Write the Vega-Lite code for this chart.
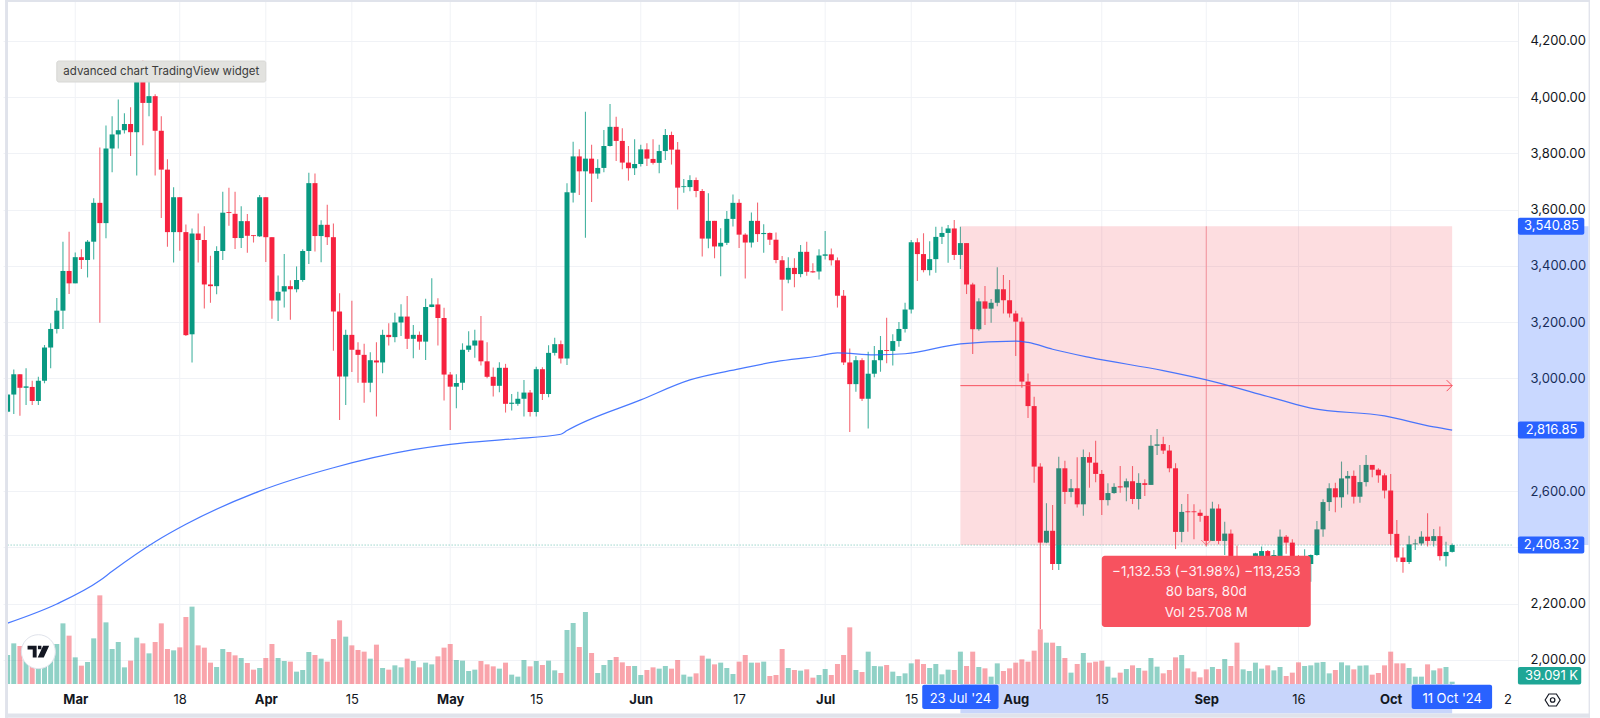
{"$schema":"https://vega.github.io/schema/vega-lite/v6.json","width":1515,"height":682,"autosize":{"type":"none"},"padding":{"left":3,"top":2,"right":82,"bottom":34},"background":"#ffffff","config":{"view":{"stroke":null},"text":{"font":"Inter"},"axis":{"labelFont":"Inter"}},
"datasets":{"candles":[
{"date":"2024-02-19","o":2882,"h":2943,"l":2880,"c":2943,"v":493},{"date":"2024-02-20","o":2943,"h":3032,"l":2874,"c":3015,"v":691},{"date":"2024-02-21","o":3015,"h":3015,"l":2868,"c":2967,"v":646},{"date":"2024-02-22","o":2967,"h":3036,"l":2906,"c":2972,"v":408},{"date":"2024-02-23","o":2970,"h":2992,"l":2906,"c":2920,"v":351},{"date":"2024-02-24","o":2920,"h":3006,"l":2906,"c":2992,"v":408},{"date":"2024-02-25","o":2992,"h":3119,"l":2983,"c":3110,"v":465},{"date":"2024-02-26","o":3110,"h":3196,"l":3036,"c":3176,"v":493},{"date":"2024-02-27","o":3176,"h":3286,"l":3160,"c":3241,"v":680},{"date":"2024-02-28","o":3241,"h":3486,"l":3176,"c":3382,"v":1031},{"date":"2024-02-29","o":3382,"h":3521,"l":3300,"c":3338,"v":822},
{"date":"2024-03-01","o":3338,"h":3448,"l":3338,"c":3431,"v":453},{"date":"2024-03-02","o":3431,"h":3459,"l":3389,"c":3421,"v":312},{"date":"2024-03-03","o":3421,"h":3492,"l":3359,"c":3486,"v":374},{"date":"2024-03-04","o":3486,"h":3640,"l":3423,"c":3624,"v":776},{"date":"2024-03-05","o":3624,"h":3821,"l":3198,"c":3552,"v":1507},{"date":"2024-03-06","o":3552,"h":3899,"l":3498,"c":3817,"v":1048},{"date":"2024-03-07","o":3817,"h":3932,"l":3733,"c":3867,"v":595},{"date":"2024-03-08","o":3867,"h":3991,"l":3817,"c":3882,"v":714},{"date":"2024-03-09","o":3882,"h":3942,"l":3870,"c":3904,"v":283},{"date":"2024-03-10","o":3904,"h":3964,"l":3790,"c":3875,"v":397},{"date":"2024-03-11","o":3875,"h":4120,"l":3721,"c":4090,"v":788},{"date":"2024-03-12","o":4090,"h":4130,"l":3829,"c":3979,"v":691},{"date":"2024-03-13","o":3979,"h":4060,"l":3932,"c":4003,"v":521},{"date":"2024-03-14","o":4003,"h":4010,"l":3721,"c":3880,"v":714},{"date":"2024-03-15","o":3880,"h":3932,"l":3570,"c":3742,"v":1031},{"date":"2024-03-16","o":3742,"h":3779,"l":3468,"c":3520,"v":595},{"date":"2024-03-17","o":3520,"h":3679,"l":3412,"c":3644,"v":572},{"date":"2024-03-18","o":3644,"h":3644,"l":3454,"c":3520,"v":623},{"date":"2024-03-19","o":3520,"h":3547,"l":3151,"c":3154,"v":1139},{"date":"2024-03-20","o":3157,"h":3533,"l":3057,"c":3515,"v":1315},{"date":"2024-03-21","o":3515,"h":3586,"l":3412,"c":3492,"v":657},{"date":"2024-03-22","o":3492,"h":3541,"l":3249,"c":3334,"v":618},{"date":"2024-03-23","o":3334,"h":3436,"l":3269,"c":3328,"v":363},{"date":"2024-03-24","o":3328,"h":3470,"l":3299,"c":3453,"v":289},{"date":"2024-03-25","o":3453,"h":3663,"l":3421,"c":3589,"v":595},{"date":"2024-03-26","o":3591,"h":3678,"l":3543,"c":3588,"v":544},{"date":"2024-03-27","o":3585,"h":3663,"l":3460,"c":3499,"v":487},{"date":"2024-03-28","o":3499,"h":3612,"l":3464,"c":3559,"v":442},{"date":"2024-03-29","o":3559,"h":3584,"l":3447,"c":3507,"v":357},{"date":"2024-03-30","o":3509,"h":3509,"l":3483,"c":3506,"v":244},{"date":"2024-03-31","o":3505,"h":3652,"l":3503,"c":3644,"v":272},
{"date":"2024-04-01","o":3644,"h":3644,"l":3414,"c":3502,"v":442},{"date":"2024-04-02","o":3502,"h":3502,"l":3212,"c":3277,"v":680},{"date":"2024-04-03","o":3277,"h":3366,"l":3204,"c":3308,"v":442},{"date":"2024-04-04","o":3309,"h":3442,"l":3252,"c":3328,"v":391},{"date":"2024-04-05","o":3328,"h":3349,"l":3209,"c":3317,"v":380},{"date":"2024-04-06","o":3317,"h":3398,"l":3306,"c":3350,"v":210},{"date":"2024-04-07","o":3350,"h":3459,"l":3344,"c":3453,"v":238},{"date":"2024-04-08","o":3453,"h":3731,"l":3407,"c":3694,"v":544},{"date":"2024-04-09","o":3694,"h":3728,"l":3451,"c":3506,"v":493},{"date":"2024-04-10","o":3506,"h":3562,"l":3413,"c":3546,"v":431},{"date":"2024-04-11","o":3546,"h":3617,"l":3474,"c":3502,"v":380},{"date":"2024-04-12","o":3502,"h":3551,"l":3099,"c":3238,"v":765},{"date":"2024-04-13","o":3238,"h":3303,"l":2853,"c":3007,"v":1082},{"date":"2024-04-14","o":3007,"h":3173,"l":2906,"c":3155,"v":805},{"date":"2024-04-15","o":3155,"h":3276,"l":3023,"c":3102,"v":657},{"date":"2024-04-16","o":3102,"h":3129,"l":2985,"c":3084,"v":578},{"date":"2024-04-17","o":3084,"h":3123,"l":2914,"c":2985,"v":550},{"date":"2024-04-18","o":2985,"h":3093,"l":2951,"c":3065,"v":431},{"date":"2024-04-19","o":3064,"h":3129,"l":2865,"c":3057,"v":669},{"date":"2024-04-20","o":3057,"h":3173,"l":3019,"c":3155,"v":272},{"date":"2024-04-21","o":3155,"h":3196,"l":3117,"c":3147,"v":244},{"date":"2024-04-22","o":3147,"h":3234,"l":3129,"c":3199,"v":317},{"date":"2024-04-23","o":3199,"h":3264,"l":3151,"c":3220,"v":283},{"date":"2024-04-24","o":3220,"h":3293,"l":3105,"c":3141,"v":431},{"date":"2024-04-25","o":3141,"h":3190,"l":3072,"c":3155,"v":391},{"date":"2024-04-26","o":3155,"h":3167,"l":3102,"c":3131,"v":283},{"date":"2024-04-27","o":3131,"h":3283,"l":3066,"c":3254,"v":363},{"date":"2024-04-28","o":3254,"h":3356,"l":3253,"c":3263,"v":334},{"date":"2024-04-29","o":3263,"h":3285,"l":3117,"c":3215,"v":470},{"date":"2024-04-30","o":3215,"h":3251,"l":2922,"c":3014,"v":618},
{"date":"2024-05-01","o":3014,"h":3023,"l":2817,"c":2971,"v":680},{"date":"2024-05-02","o":2971,"h":3015,"l":2894,"c":2984,"v":408},{"date":"2024-05-03","o":2985,"h":3125,"l":2959,"c":3102,"v":397},{"date":"2024-05-04","o":3102,"h":3168,"l":3094,"c":3117,"v":221},{"date":"2024-05-05","o":3117,"h":3173,"l":3074,"c":3135,"v":244},{"date":"2024-05-06","o":3135,"h":3222,"l":3046,"c":3061,"v":391},{"date":"2024-05-07","o":3061,"h":3129,"l":3001,"c":3006,"v":334},{"date":"2024-05-08","o":3006,"h":3039,"l":2936,"c":2974,"v":300},{"date":"2024-05-09","o":2974,"h":3058,"l":2951,"c":3038,"v":261},{"date":"2024-05-10","o":3038,"h":3052,"l":2879,"c":2910,"v":363},{"date":"2024-05-11","o":2910,"h":2945,"l":2886,"c":2914,"v":159},{"date":"2024-05-12","o":2910,"h":2953,"l":2903,"c":2928,"v":125},{"date":"2024-05-13","o":2928,"h":2995,"l":2865,"c":2950,"v":408},{"date":"2024-05-14","o":2950,"h":2959,"l":2865,"c":2881,"v":300},{"date":"2024-05-15","o":2881,"h":3042,"l":2865,"c":3033,"v":391},{"date":"2024-05-16","o":3033,"h":3040,"l":2924,"c":2945,"v":323},{"date":"2024-05-17","o":2945,"h":3118,"l":2933,"c":3091,"v":397},{"date":"2024-05-18","o":3091,"h":3145,"l":3082,"c":3122,"v":232},{"date":"2024-05-19","o":3122,"h":3135,"l":3053,"c":3071,"v":187},{"date":"2024-05-20","o":3071,"h":3694,"l":3048,"c":3662,"v":918},{"date":"2024-05-21","o":3660,"h":3841,"l":3625,"c":3789,"v":1037},{"date":"2024-05-22","o":3789,"h":3814,"l":3652,"c":3736,"v":629},{"date":"2024-05-23","o":3736,"h":3948,"l":3500,"c":3781,"v":1224},{"date":"2024-05-24","o":3781,"h":3830,"l":3627,"c":3728,"v":527},{"date":"2024-05-25","o":3728,"h":3779,"l":3710,"c":3748,"v":187},{"date":"2024-05-26","o":3748,"h":3883,"l":3733,"c":3826,"v":323},{"date":"2024-05-27","o":3826,"h":3975,"l":3824,"c":3894,"v":408},{"date":"2024-05-28","o":3894,"h":3930,"l":3773,"c":3844,"v":459},{"date":"2024-05-29","o":3844,"h":3889,"l":3743,"c":3767,"v":368},{"date":"2024-05-30","o":3767,"h":3826,"l":3703,"c":3747,"v":306},{"date":"2024-05-31","o":3747,"h":3850,"l":3723,"c":3762,"v":306},
{"date":"2024-06-01","o":3762,"h":3830,"l":3753,"c":3814,"v":153},{"date":"2024-06-02","o":3814,"h":3836,"l":3755,"c":3781,"v":238},{"date":"2024-06-03","o":3780,"h":3850,"l":3760,"c":3766,"v":283},{"date":"2024-06-04","o":3766,"h":3830,"l":3729,"c":3808,"v":261},{"date":"2024-06-05","o":3808,"h":3886,"l":3776,"c":3865,"v":306},{"date":"2024-06-06","o":3865,"h":3877,"l":3760,"c":3813,"v":261},{"date":"2024-06-07","o":3813,"h":3840,"l":3600,"c":3678,"v":408},{"date":"2024-06-08","o":3680,"h":3709,"l":3660,"c":3683,"v":159},{"date":"2024-06-09","o":3680,"h":3722,"l":3665,"c":3705,"v":125},{"date":"2024-06-10","o":3705,"h":3714,"l":3644,"c":3666,"v":181},{"date":"2024-06-11","o":3666,"h":3673,"l":3433,"c":3497,"v":482},{"date":"2024-06-12","o":3497,"h":3658,"l":3463,"c":3560,"v":431},{"date":"2024-06-13","o":3560,"h":3560,"l":3427,"c":3469,"v":334},{"date":"2024-06-14","o":3469,"h":3534,"l":3363,"c":3482,"v":363},{"date":"2024-06-15","o":3482,"h":3595,"l":3474,"c":3567,"v":272},{"date":"2024-06-16","o":3567,"h":3654,"l":3540,"c":3624,"v":170},{"date":"2024-06-17","o":3624,"h":3637,"l":3464,"c":3511,"v":380},{"date":"2024-06-18","o":3511,"h":3516,"l":3355,"c":3483,"v":493},{"date":"2024-06-19","o":3483,"h":3590,"l":3465,"c":3560,"v":363},{"date":"2024-06-20","o":3560,"h":3625,"l":3485,"c":3513,"v":363},{"date":"2024-06-21","o":3513,"h":3548,"l":3447,"c":3517,"v":380},{"date":"2024-06-22","o":3517,"h":3519,"l":3474,"c":3493,"v":136},{"date":"2024-06-23","o":3493,"h":3519,"l":3409,"c":3421,"v":153},{"date":"2024-06-24","o":3420,"h":3435,"l":3241,"c":3351,"v":595},{"date":"2024-06-25","o":3351,"h":3431,"l":3338,"c":3393,"v":272},{"date":"2024-06-26","o":3393,"h":3427,"l":3324,"c":3371,"v":238},{"date":"2024-06-27","o":3371,"h":3474,"l":3360,"c":3450,"v":227},{"date":"2024-06-28","o":3450,"h":3486,"l":3365,"c":3379,"v":249},{"date":"2024-06-29","o":3381,"h":3409,"l":3376,"c":3377,"v":108},{"date":"2024-06-30","o":3380,"h":3459,"l":3352,"c":3437,"v":153},
{"date":"2024-07-01","o":3436,"h":3524,"l":3423,"c":3441,"v":255},{"date":"2024-07-02","o":3441,"h":3462,"l":3401,"c":3420,"v":153},{"date":"2024-07-03","o":3420,"h":3430,"l":3252,"c":3294,"v":340},{"date":"2024-07-04","o":3294,"h":3314,"l":3048,"c":3057,"v":493},{"date":"2024-07-05","o":3057,"h":3107,"l":2810,"c":2980,"v":963},{"date":"2024-07-06","o":2980,"h":3080,"l":2953,"c":3065,"v":238},{"date":"2024-07-07","o":3065,"h":3072,"l":2920,"c":2928,"v":204},{"date":"2024-07-08","o":2928,"h":3095,"l":2822,"c":3017,"v":550},{"date":"2024-07-09","o":3017,"h":3115,"l":3004,"c":3065,"v":306},{"date":"2024-07-10","o":3065,"h":3151,"l":3024,"c":3101,"v":300},{"date":"2024-07-11","o":3101,"h":3216,"l":3054,"c":3098,"v":323},{"date":"2024-07-12","o":3098,"h":3157,"l":3046,"c":3133,"v":210},{"date":"2024-07-13","o":3133,"h":3201,"l":3113,"c":3176,"v":136},{"date":"2024-07-14","o":3176,"h":3269,"l":3163,"c":3245,"v":181},{"date":"2024-07-15","o":3245,"h":3492,"l":3231,"c":3484,"v":351},{"date":"2024-07-16","o":3484,"h":3498,"l":3346,"c":3442,"v":419},{"date":"2024-07-17","o":3442,"h":3516,"l":3377,"c":3385,"v":340},{"date":"2024-07-18","o":3385,"h":3488,"l":3366,"c":3424,"v":272},{"date":"2024-07-19","o":3424,"h":3539,"l":3376,"c":3503,"v":340},{"date":"2024-07-20","o":3503,"h":3539,"l":3478,"c":3517,"v":164},{"date":"2024-07-21","o":3517,"h":3545,"l":3411,"c":3533,"v":244},{"date":"2024-07-22","o":3533,"h":3563,"l":3421,"c":3439,"v":238},{"date":"2024-07-23","o":3439,"h":3539,"l":3389,"c":3481,"v":550},{"date":"2024-07-24","o":3481,"h":3481,"l":3300,"c":3334,"v":306},{"date":"2024-07-25","o":3334,"h":3340,"l":3087,"c":3175,"v":550},{"date":"2024-07-26","o":3175,"h":3285,"l":3170,"c":3274,"v":289},{"date":"2024-07-27","o":3274,"h":3329,"l":3190,"c":3248,"v":266},{"date":"2024-07-28","o":3248,"h":3282,"l":3198,"c":3269,"v":125},{"date":"2024-07-29","o":3269,"h":3395,"l":3257,"c":3317,"v":351},{"date":"2024-07-30","o":3317,"h":3368,"l":3231,"c":3278,"v":221},{"date":"2024-07-31","o":3278,"h":3350,"l":3217,"c":3231,"v":266},
{"date":"2024-08-01","o":3231,"h":3241,"l":3080,"c":3202,"v":363},{"date":"2024-08-02","o":3202,"h":3217,"l":2967,"c":2989,"v":419},{"date":"2024-08-03","o":2989,"h":3018,"l":2860,"c":2902,"v":380},{"date":"2024-08-04","o":2902,"h":2935,"l":2630,"c":2687,"v":567},{"date":"2024-08-05","o":2687,"h":2699,"l":2110,"c":2417,"v":929},{"date":"2024-08-06","o":2417,"h":2557,"l":2415,"c":2459,"v":703},{"date":"2024-08-07","o":2459,"h":2551,"l":2320,"c":2341,"v":703},{"date":"2024-08-08","o":2341,"h":2722,"l":2320,"c":2681,"v":646},{"date":"2024-08-09","o":2681,"h":2708,"l":2554,"c":2597,"v":442},{"date":"2024-08-10","o":2597,"h":2643,"l":2578,"c":2610,"v":193},{"date":"2024-08-11","o":2610,"h":2720,"l":2542,"c":2553,"v":340},{"date":"2024-08-12","o":2553,"h":2748,"l":2512,"c":2721,"v":527},{"date":"2024-08-13","o":2721,"h":2738,"l":2612,"c":2701,"v":363},{"date":"2024-08-14","o":2701,"h":2779,"l":2631,"c":2661,"v":380},{"date":"2024-08-15","o":2661,"h":2675,"l":2515,"c":2568,"v":397},{"date":"2024-08-16","o":2568,"h":2628,"l":2549,"c":2593,"v":295},{"date":"2024-08-17","o":2593,"h":2628,"l":2591,"c":2615,"v":108},{"date":"2024-08-18","o":2617,"h":2689,"l":2594,"c":2613,"v":193},{"date":"2024-08-19","o":2613,"h":2645,"l":2564,"c":2635,"v":255},{"date":"2024-08-20","o":2635,"h":2689,"l":2554,"c":2572,"v":317},{"date":"2024-08-21","o":2572,"h":2663,"l":2535,"c":2629,"v":272},{"date":"2024-08-22","o":2628,"h":2642,"l":2583,"c":2622,"v":227},{"date":"2024-08-23","o":2622,"h":2799,"l":2622,"c":2761,"v":442},{"date":"2024-08-24","o":2761,"h":2821,"l":2728,"c":2766,"v":295},{"date":"2024-08-25","o":2767,"h":2793,"l":2732,"c":2744,"v":181},{"date":"2024-08-26","o":2744,"h":2764,"l":2667,"c":2681,"v":238},{"date":"2024-08-27","o":2681,"h":2699,"l":2394,"c":2455,"v":453},{"date":"2024-08-28","o":2455,"h":2554,"l":2418,"c":2526,"v":493},{"date":"2024-08-29","o":2528,"h":2590,"l":2456,"c":2525,"v":266},{"date":"2024-08-30","o":2528,"h":2553,"l":2429,"c":2525,"v":210},{"date":"2024-08-31","o":2523,"h":2535,"l":2491,"c":2512,"v":113},
{"date":"2024-09-01","o":2512,"h":2512,"l":2403,"c":2423,"v":249},{"date":"2024-09-02","o":2423,"h":2562,"l":2423,"c":2538,"v":289},{"date":"2024-09-03","o":2538,"h":2553,"l":2411,"c":2423,"v":255},{"date":"2024-09-04","o":2423,"h":2491,"l":2373,"c":2449,"v":425},{"date":"2024-09-05","o":2449,"h":2464,"l":2320,"c":2332,"v":306},{"date":"2024-09-06","o":2367,"h":2407,"l":2296,"c":2320,"v":703},{"date":"2024-09-07","o":2320,"h":2367,"l":2296,"c":2343,"v":249},{"date":"2024-09-08","o":2326,"h":2361,"l":2302,"c":2343,"v":221},{"date":"2024-09-09","o":2343,"h":2381,"l":2320,"c":2379,"v":363},{"date":"2024-09-10","o":2367,"h":2403,"l":2332,"c":2387,"v":261},{"date":"2024-09-11","o":2387,"h":2391,"l":2326,"c":2355,"v":317},{"date":"2024-09-12","o":2355,"h":2391,"l":2320,"c":2373,"v":232},{"date":"2024-09-13","o":2369,"h":2464,"l":2343,"c":2438,"v":289},{"date":"2024-09-14","o":2438,"h":2444,"l":2377,"c":2417,"v":136},{"date":"2024-09-15","o":2417,"h":2429,"l":2332,"c":2361,"v":193},{"date":"2024-09-16","o":2361,"h":2373,"l":2296,"c":2320,"v":368},{"date":"2024-09-17","o":2320,"h":2393,"l":2296,"c":2355,"v":306},{"date":"2024-09-18","o":2341,"h":2375,"l":2278,"c":2373,"v":317},{"date":"2024-09-19","o":2373,"h":2494,"l":2370,"c":2464,"v":363},{"date":"2024-09-20","o":2464,"h":2571,"l":2438,"c":2561,"v":374},{"date":"2024-09-21","o":2561,"h":2628,"l":2529,"c":2610,"v":181},{"date":"2024-09-22","o":2610,"h":2630,"l":2525,"c":2578,"v":238},{"date":"2024-09-23","o":2578,"h":2705,"l":2541,"c":2645,"v":368},{"date":"2024-09-24","o":2645,"h":2671,"l":2588,"c":2654,"v":317},{"date":"2024-09-25","o":2654,"h":2673,"l":2556,"c":2580,"v":249},{"date":"2024-09-26","o":2580,"h":2693,"l":2559,"c":2632,"v":312},{"date":"2024-09-27","o":2632,"h":2728,"l":2616,"c":2693,"v":317},{"date":"2024-09-28","o":2693,"h":2693,"l":2649,"c":2676,"v":159},{"date":"2024-09-29","o":2676,"h":2681,"l":2630,"c":2656,"v":187},{"date":"2024-09-30","o":2656,"h":2663,"l":2574,"c":2602,"v":317},
{"date":"2024-10-01","o":2602,"h":2661,"l":2408,"c":2448,"v":550},{"date":"2024-10-02","o":2448,"h":2497,"l":2349,"c":2364,"v":351},{"date":"2024-10-03","o":2364,"h":2400,"l":2310,"c":2348,"v":351},{"date":"2024-10-04","o":2348,"h":2441,"l":2341,"c":2411,"v":272},{"date":"2024-10-05","o":2411,"h":2429,"l":2391,"c":2414,"v":125},{"date":"2024-10-06","o":2414,"h":2457,"l":2407,"c":2438,"v":125},{"date":"2024-10-07","o":2438,"h":2521,"l":2403,"c":2423,"v":334},{"date":"2024-10-08","o":2423,"h":2465,"l":2403,"c":2440,"v":232},{"date":"2024-10-09","o":2440,"h":2474,"l":2353,"c":2369,"v":266},{"date":"2024-10-10","o":2369,"h":2420,"l":2332,"c":2384,"v":289},{"date":"2024-10-11","o":2384,"h":2414,"l":2382,"c":2408.32,"v":39.091}],
"ma":[{"date":"2024-02-19","p":2131},{"date":"2024-02-27","p":2199},{"date":"2024-03-05","p":2282},{"date":"2024-03-07","p":2315},{"date":"2024-03-14","p":2420},{"date":"2024-03-19","p":2482},{"date":"2024-03-31","p":2600},{"date":"2024-04-12","p":2683},{"date":"2024-04-25","p":2747},{"date":"2024-05-01","p":2766},{"date":"2024-05-11","p":2785},{"date":"2024-05-19","p":2802},{"date":"2024-05-20","p":2815},{"date":"2024-06-01","p":2924},{"date":"2024-06-09","p":2995},{"date":"2024-06-17","p":3034},{"date":"2024-06-23","p":3060},{"date":"2024-06-30","p":3080},{"date":"2024-07-03","p":3091},{"date":"2024-07-09","p":3084},{"date":"2024-07-14","p":3088},{"date":"2024-07-23","p":3123},{"date":"2024-08-01","p":3133},{"date":"2024-08-03","p":3128},{"date":"2024-08-07","p":3104},{"date":"2024-08-13","p":3075},{"date":"2024-08-25","p":3028},{"date":"2024-09-02","p":2990},{"date":"2024-09-11","p":2936},{"date":"2024-09-13","p":2924},{"date":"2024-09-18","p":2895},{"date":"2024-09-30","p":2867},{"date":"2024-10-08","p":2828},{"date":"2024-10-11","p":2816.85}]},
"encoding":{"x":{"field":"date","type":"temporal","title":null,"scale":{"type":"utc","domain":[1708305984000,1729460160000]},"axis":{"values":[{"year":2024,"month":"mar","date":1,"utc":true},{"year":2024,"month":"mar","date":18,"utc":true},{"year":2024,"month":"apr","date":1,"utc":true},{"year":2024,"month":"apr","date":15,"utc":true},{"year":2024,"month":"may","date":1,"utc":true},{"year":2024,"month":"may","date":15,"utc":true},{"year":2024,"month":"jun","date":1,"utc":true},{"year":2024,"month":"jun","date":17,"utc":true},{"year":2024,"month":"jul","date":1,"utc":true},{"year":2024,"month":"jul","date":15,"utc":true},{"year":2024,"month":"aug","date":1,"utc":true},{"year":2024,"month":"aug","date":15,"utc":true},{"year":2024,"month":"sep","date":1,"utc":true},{"year":2024,"month":"sep","date":16,"utc":true},{"year":2024,"month":"oct","date":1,"utc":true},{"year":2024,"month":"oct","date":20,"utc":true}],"grid":false,"ticks":false,"domain":false,"zindex":1,"labelAngle":0,"labelOverlap":false,"labelBound":false,"labelFlush":false,"labelPadding":9,"labelFontSize":13,"labelColor":"#131722","labelExpr":"utcdate(datum.value)==1 ? utcFormat(datum.value,'%b') : (utcdate(datum.value)==20 ? '2' : utcFormat(datum.value,'%-d'))","labelFontWeight":{"condition":{"test":"utcdate(datum.value)==1","value":"bold"},"value":"normal"}}}},
"layer":[
{"data":{"values":[{"date":"2024-03-01"},{"date":"2024-03-18"},{"date":"2024-04-01"},{"date":"2024-04-15"},{"date":"2024-05-01"},{"date":"2024-05-15"},{"date":"2024-06-01"},{"date":"2024-06-17"},{"date":"2024-07-01"},{"date":"2024-07-15"},{"date":"2024-08-01"},{"date":"2024-08-15"},{"date":"2024-09-01"},{"date":"2024-09-16"},{"date":"2024-10-01"}]},"mark":{"type":"rule","color":"#f0f2f6","strokeWidth":1},"encoding":{}},
{"data":{"name":"candles"},"mark":{"type":"bar","size":5,"opacity":0.45},"encoding":{"y":{"field":"v","type":"quantitative","title":null,"axis":null,"scale":{"domain":[0,11594],"nice":false}},"color":{"condition":{"test":"datum.c>=datum.o","value":"#089981"},"value":"#f23645"}}},
{"encoding":{"y":{"field":"p","type":"quantitative","title":null,"scale":{"domain":[1914.7,4337.5],"nice":false,"zero":false},"axis":{"orient":"right","values":[2000,2200,2400,2600,2800,3000,3200,3400,3600,3800,4000,4200],"grid":true,"gridColor":"#f0f2f6","ticks":false,"domain":true,"domainColor":"#eceef2","labelPadding":12,"labelFontSize":13,"labelColor":"#131722","labelLimit":100,"labelExpr":"datum.value==2400||datum.value==2800 ? '' : format(datum.value,',.2f')"}}},
"layer":[
{"data":{"values":[{"date":"2024-02-19","date2":"2024-10-21","p":2408.32}]},"mark":{"type":"rule","color":"#089981","opacity":0.6,"strokeWidth":1,"strokeDash":[1,2]},"encoding":{"x2":{"field":"date2"}}},
{"data":{"name":"candles"},"mark":{"type":"rule","strokeWidth":1.1,"opacity":0.75},"encoding":{"y":{"field":"l","type":"quantitative","title":null},"y2":{"field":"h"},"color":{"condition":{"test":"datum.c>=datum.o","value":"#089981"},"value":"#f23645"}}},
{"data":{"name":"candles"},"mark":{"type":"bar","size":5},"encoding":{"y":{"field":"o","type":"quantitative","title":null},"y2":{"field":"c"},"color":{"condition":{"test":"datum.c>=datum.o","value":"#089981"},"value":"#f6223f"}}},
{"data":{"values":[{"date":"2024-07-23","date2":"2024-10-11","p":3540.85,"p2":2408.32}]},"mark":{"type":"rect","color":"#f23645","opacity":0.17},"encoding":{"x2":{"field":"date2"},"y2":{"field":"p2"}}},
{"data":{"values":[{"date":"2024-07-23","date2":"2024-10-11","p":2974.6}]},"mark":{"type":"rule","color":"#f7525f","strokeWidth":1},"encoding":{"x2":{"field":"date2"}}},
{"data":{"values":[{"date":"2024-09-01","p":3540.85,"p2":2408.32}]},"mark":{"type":"rule","color":"#f7525f","strokeWidth":1,"opacity":0.5},"encoding":{"y2":{"field":"p2"}}},
{"data":{"values":[{"date":"2024-10-11","p":2974.6}]},"mark":{"type":"point","shape":"M-1,-1L0,0L-1,1","filled":false,"stroke":"#f7525f","strokeWidth":1,"size":121,"opacity":1}},
{"data":{"values":[{"date":"2024-09-01","p":2408.32}]},"mark":{"type":"point","shape":"M-1,-1L0,0L1,-1","filled":false,"stroke":"#f7525f","strokeWidth":1,"size":100,"opacity":0.7}},
{"data":{"name":"ma"},"mark":{"type":"line","color":"#2962ff","strokeWidth":1.2,"opacity":0.85,"interpolate":"monotone"}},
{"data":{"values":[{"date":"2024-08-15","date2":"2024-09-18","p":2370.5,"p2":2117.2}]},"mark":{"type":"rect","color":"#f7525f","cornerRadius":3},"encoding":{"x2":{"field":"date2"},"y2":{"field":"p2"}}},
{"data":{"values":[{"date":"2024-09-01","p":2313.7,"label":"−1,132.53 (−31.98%) −113,253"},{"date":"2024-09-01","p":2240.4,"label":"80 bars, 80d"},{"date":"2024-09-01","p":2168,"label":"Vol 25.708 M"}]},"mark":{"type":"text","color":"#ffffff","fontSize":13.4,"align":"center","baseline":"middle","opacity":0.92},"encoding":{"text":{"field":"label"}}},
{"data":{"values":[{"date":"2024-02-27","date2":"2024-04-01","p":4127.9,"p2":4053.3}]},"mark":{"type":"rect","color":"#e2e2df","stroke":"#d8d8d5","strokeWidth":1,"cornerRadius":2},"encoding":{"x2":{"field":"date2"},"y2":{"field":"p2"}}},
{"data":{"values":[{"date":"2024-03-15","p":4090.6,"label":"advanced chart TradingView widget"}]},"mark":{"type":"text","color":"#3c3c3c","fontSize":11.5,"align":"center","baseline":"middle"},"encoding":{"text":{"field":"label"}}},
{"data":{"values":[{"date":"2024-02-24","p":2029.5}]},"mark":{"type":"point","shape":"circle","filled":true,"fill":"#ffffff","stroke":"#e0e3eb","strokeWidth":1,"size":1156,"opacity":1}},
{"data":{"values":[{"date":"2024-02-24","p":2029.5}]},"mark":{"type":"point","shape":"M-1,-0.54H-0.16V0.54H-0.52V-0.2H-1Z M-0.04,-0.54h0.32v0.32h-0.32Z M0.44,-0.54H1L0.5,0.54H-0.06Z","filled":true,"fill":"#131722","stroke":null,"size":467,"opacity":1}},
{"data":{"values":[{"date":"2024-10-21T16:48:00Z","date2":"2024-11-02T04:48:00Z","p":3540.85,"p2":2408.32}]},"mark":{"type":"rect","color":"#2962ff","opacity":0.25},"encoding":{"x2":{"field":"date2"},"y2":{"field":"p2"}}},
{"data":{"values":[{"date":"2024-07-23","date2":"2024-10-11","p":1914.7,"p2":1809.9}]},"mark":{"type":"rect","color":"#c8d5fb"},"encoding":{"x2":{"field":"date2"},"y2":{"field":"p2"}}},
{"data":{"values":[{"date":"2024-10-21T16:48:00Z","date2":"2024-11-01T12:00:00Z","p":3570.9,"p2":3510.8},{"date":"2024-10-21T16:48:00Z","date2":"2024-11-01T12:00:00Z","p":2846.9,"p2":2786.8},{"date":"2024-10-21T16:48:00Z","date2":"2024-11-01T12:00:00Z","p":2438.4,"p2":2378.3},{"date":"2024-07-16T19:00:00Z","date2":"2024-07-29T05:00:00Z","p":1912.3,"p2":1826},{"date":"2024-10-04T10:00:00Z","date2":"2024-10-17T12:00:00Z","p":1912.3,"p2":1826}]},"mark":{"type":"rect","color":"#2962ff","cornerRadius":2},"encoding":{"x2":{"field":"date2"},"y2":{"field":"p2"}}},
{"data":{"values":[{"date":"2024-10-21T16:48:00Z","date2":"2024-11-01T00:00:00Z","p":1975,"p2":1913}]},"mark":{"type":"rect","color":"#1ea696","cornerRadius":2},"encoding":{"x2":{"field":"date2"},"y2":{"field":"p2"}}},
{"data":{"values":[{"date":"2024-10-27T04:00:00Z","p":3540.85,"label":"3,540.85"},{"date":"2024-10-27T04:00:00Z","p":2816.85,"label":"2,816.85"},{"date":"2024-10-27T04:00:00Z","p":2408.32,"label":"2,408.32"},{"date":"2024-10-27T04:00:00Z","p":1944.2,"label":"39.091 K"},{"date":"2024-07-23","p":1862,"label":"23 Jul '24"},{"date":"2024-10-11","p":1862,"label":"11 Oct '24"}]},"mark":{"type":"text","color":"#ffffff","fontSize":13,"align":"center","baseline":"middle"},"encoding":{"text":{"field":"label"}}},
{"data":{"values":[{"date":"2024-10-27T08:24:00Z","p":1857.9}]},"mark":{"type":"point","shape":"M-1,0L-0.5,-0.8H0.5L1,0L0.5,0.8H-0.5Z","filled":false,"stroke":"#131722","strokeWidth":1.2,"size":225,"opacity":1}},
{"data":{"values":[{"date":"2024-10-27T08:24:00Z","p":1857.9}]},"mark":{"type":"point","shape":"circle","filled":false,"stroke":"#131722","strokeWidth":1.2,"size":20,"opacity":1}},
{"data":{"values":[{"date":"2024-02-18T14:00:00Z","date2":"2024-02-19T01:30:00Z","p":4344.6,"p2":1794.5},{"date":"2024-02-18T14:00:00Z","date2":"2024-11-02T10:00:00Z","p":4344.6,"p2":4337.5},{"date":"2024-02-18T14:00:00Z","date2":"2024-11-02T10:00:00Z","p":1809.9,"p2":1794.5},{"date":"2024-11-02T04:48:00Z","date2":"2024-11-02T10:00:00Z","p":4344.6,"p2":1794.5}]},"mark":{"type":"rect","color":"#e0e3eb"},"encoding":{"x2":{"field":"date2"},"y2":{"field":"p2"}}}
]}],
"resolve":{"scale":{"y":"independent"}}}
